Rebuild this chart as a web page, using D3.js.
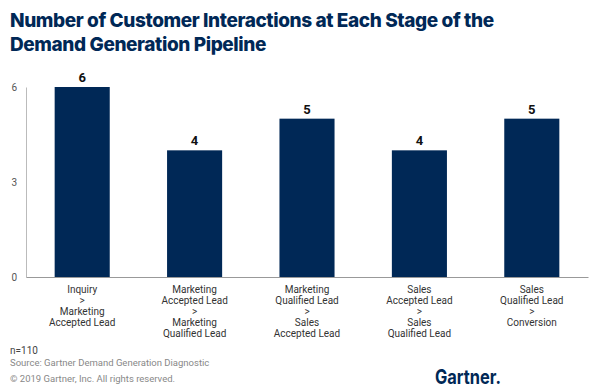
<!DOCTYPE html>
<html><head><meta charset="utf-8">
<script src="https://cdn.jsdelivr.net/npm/d3@7"></script>
<style>body{margin:0;background:#fff}svg{display:block}</style>
</head><body><svg id="c" width="600" height="390"></svg>
<script>
const categories = [
  ["Inquiry", ">", "Marketing", "Accepted Lead"],
  ["Marketing", "Accepted Lead", ">", "Marketing", "Qualified Lead"],
  ["Marketing", "Qualified Lead", ">", "Sales", "Accepted Lead"],
  ["Sales", "Accepted Lead", ">", "Sales", "Qualified Lead"],
  ["Sales", "Qualified Lead", ">", "Conversion"]
];
const values = [6, 4, 5, 4, 5];
const yTicks = [0, 3, 6];
const titleLines = ["Number of Customer Interactions at Each Stage of the", "Demand Generation Pipeline"];
const notes = ["n=110", "Source: Gartner Demand Generation Diagnostic", "\u00A9 2019 Gartner, Inc. All rights reserved."];

const svg = d3.select("#c");
const font = "Roboto, 'Noto Sans', sans-serif";
const navy = "#002856";

svg.append("g").selectAll("text").data(titleLines).join("text")
  .attr("x", 10).attr("y", (d,i)=>27+i*24)
  .attr("font-family", "Inter, Roboto, sans-serif").attr("font-weight", 800)
  .attr("font-size", 19).attr("fill", navy).attr("letter-spacing", -0.4)
  .text(d=>d);

const x = d3.scaleBand().domain(d3.range(values.length)).range([26, 588]).paddingInner(0.51).paddingOuter(0.255);
const y = d3.scaleLinear().domain([0, 6]).range([277, 87]);

const ya = svg.append("g").attr("transform", "translate(26,0)")
  .call(d3.axisLeft(y).tickValues(yTicks).tickFormat(d3.format("d")).tickSize(0).tickPadding(9));
ya.select(".domain").attr("stroke", "#bbb");
ya.selectAll("text").attr("font-family", font).attr("font-size", 10).attr("fill", "#555");

svg.append("g").selectAll("rect").data(values).join("rect")
  .attr("x", (d,i)=>x(i)).attr("width", x.bandwidth())
  .attr("y", d=>y(d)).attr("height", d=>y(0)-y(d)).attr("fill", navy);

svg.append("g").selectAll("text").data(values).join("text")
  .attr("x", (d,i)=>x(i)+x.bandwidth()/2).attr("y", d=>y(d)-5)
  .attr("text-anchor", "middle").attr("font-family", font).attr("font-weight", 700)
  .attr("font-size", 13).attr("fill", "#111").text(d=>d);

const xa = svg.append("g").attr("transform", `translate(0,${y(0)})`)
  .call(d3.axisBottom(x).tickSize(0).tickFormat(""));
xa.select(".domain").attr("stroke", "#999");

const lab = svg.append("g").selectAll("text").data(categories).join("text")
  .attr("text-anchor", "middle").attr("font-family", font).attr("font-size", 10).attr("fill", "#333");
lab.each(function(lines, i){
  d3.select(this).selectAll("tspan").data(lines).join("tspan")
    .attr("x", x(i)+x.bandwidth()/2).attr("y", (d,j)=>293+j*11).text(d=>d);
});

svg.append("g").selectAll("text").data(notes).join("text")
  .attr("x", 10).attr("y", (d,i)=>[354, 366, 382][i])
  .attr("font-family", font).attr("font-size", (d,i)=>i===0?10:9.5)
  .attr("fill", (d,i)=>i===0?"#444":"#888").text(d=>d);

svg.append("text").attr("x", 435).attr("y", 384)
  .attr("font-family", "Inter, Roboto, sans-serif").attr("font-weight", 700)
  .attr("font-size", 20).attr("fill", navy)
  .attr("textLength", 66).attr("lengthAdjust", "spacingAndGlyphs").text("Gartner.");
</script></body></html>
